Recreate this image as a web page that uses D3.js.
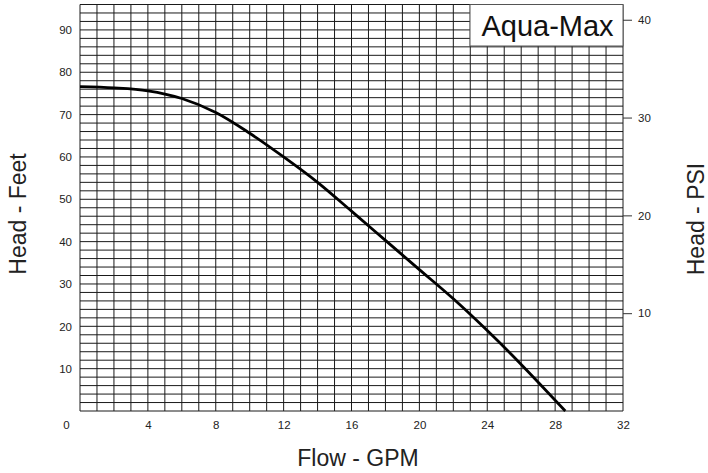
<!DOCTYPE html>
<html>
<head>
<meta charset="utf-8">
<script src="https://cdn.jsdelivr.net/npm/d3@7"></script>
<style>
  html, body { margin: 0; padding: 0; background: #fff; }
  svg { display: block; }
  text { font-family: "Liberation Sans", Arial, sans-serif; fill: #222; }
</style>
</head>
<body>
<svg id="chart" width="708" height="473"></svg>
<script>
// ---- Data ----
const flowGPM = [0, 2, 4, 6, 8, 10, 12, 14, 16, 18, 20, 22, 24, 26, 28.6];
const headFeet = [76.6, 76.3, 75.6, 73.8, 70.5, 65.6, 60.0, 54.0, 47.2, 40.3, 33.4, 26.5, 19.0, 11.0, 0];
const flowTicks = [0, 4, 8, 12, 16, 20, 24, 28, 32];
const feetTicks = [10, 20, 30, 40, 50, 60, 70, 80, 90];
const psiTicks = [10, 20, 30, 40];
const title = "Aqua-Max";
const xTitle = "Flow - GPM";
const yTitleLeft = "Head - Feet";
const yTitleRight = "Head - PSI";
const FEET_PER_PSI = 2.31;

// ---- Layout ----
const svg = d3.select("#chart");
const pLeft = 80, pRight = 623, pTop = 4.5, pBottom = 411;
const tickFont = 11.5;

const x = d3.scaleLinear().domain([0, 32]).range([pLeft, pRight]);
const y = d3.scaleLinear().domain([0, 96]).range([pBottom, pTop]);
const yPsi = d3.scaleLinear().domain([0, 96 / FEET_PER_PSI]).range([pBottom, pTop]);

// Grid
const grid = svg.append("g");
grid.selectAll("line.v").data(d3.range(0, 33, 1)).join("line").attr("class", "v")
  .attr("x1", d => x(d)).attr("x2", d => x(d))
  .attr("y1", pTop).attr("y2", pBottom)
  .attr("stroke", "#1a1a1a").attr("stroke-width", 1);
grid.selectAll("line.h").data(d3.range(0, 97, 2)).join("line").attr("class", "h")
  .attr("y1", d => y(d)).attr("y2", d => y(d))
  .attr("x1", pLeft).attr("x2", pRight)
  .attr("stroke", "#1a1a1a").attr("stroke-width", 1);

// Curve
const line = d3.line().x((d, i) => x(flowGPM[i])).y(d => y(d)).curve(d3.curveCatmullRom.alpha(0.5));
svg.append("path").datum(headFeet)
  .attr("d", line)
  .attr("fill", "none").attr("stroke", "#000").attr("stroke-width", 2.8);

// Title box
const bx0 = 470, by1 = 46;
svg.append("rect").attr("x", bx0).attr("y", pTop).attr("width", pRight - bx0).attr("height", by1 - pTop)
  .attr("fill", "#fff").attr("stroke", "#555").attr("stroke-width", 1);
svg.append("text").attr("x", (bx0 + pRight) / 2 + 1).attr("y", 35.5)
  .attr("text-anchor", "middle").attr("font-size", 29).style("fill", "#111").text(title);

// Left axis
const axL = svg.append("g").attr("transform", `translate(${pLeft},0)`)
  .call(d3.axisLeft(y).tickValues(feetTicks).tickSize(0).tickPadding(8));
axL.select(".domain").remove();
axL.selectAll("text").attr("font-size", tickFont).style("font-family", "Liberation Sans, Arial, sans-serif").style("fill", "#222");

// Bottom axis
const axB = svg.append("g").attr("transform", `translate(0,${pBottom})`)
  .call(d3.axisBottom(x).tickValues(flowTicks).tickSize(0).tickPadding(10));
axB.select(".domain").remove();
axB.selectAll("text").attr("font-size", tickFont).style("font-family", "Liberation Sans, Arial, sans-serif").style("fill", "#222");
axB.selectAll(".tick").filter(d => d === 0).select("text").attr("dx", -14);

// Right axis (PSI)
const axR = svg.append("g").attr("transform", `translate(${pRight},0)`)
  .call(d3.axisRight(yPsi).tickValues(psiTicks).tickSize(9).tickPadding(6));
axR.select(".domain").remove();
axR.selectAll("line").attr("stroke", "#333");
axR.selectAll("text").attr("font-size", tickFont).style("font-family", "Liberation Sans, Arial, sans-serif").style("fill", "#222");

// Axis titles
svg.append("text").attr("x", 358).attr("y", 466)
  .attr("text-anchor", "middle").attr("font-size", 23).text(xTitle);
svg.append("text").attr("transform", "translate(25.5,214) rotate(-90)")
  .attr("text-anchor", "middle").attr("font-size", 23).text(yTitleLeft);
svg.append("text").attr("transform", "translate(704,219) rotate(-90)")
  .attr("text-anchor", "middle").attr("font-size", 23).text(yTitleRight);
</script>
</body>
</html>
